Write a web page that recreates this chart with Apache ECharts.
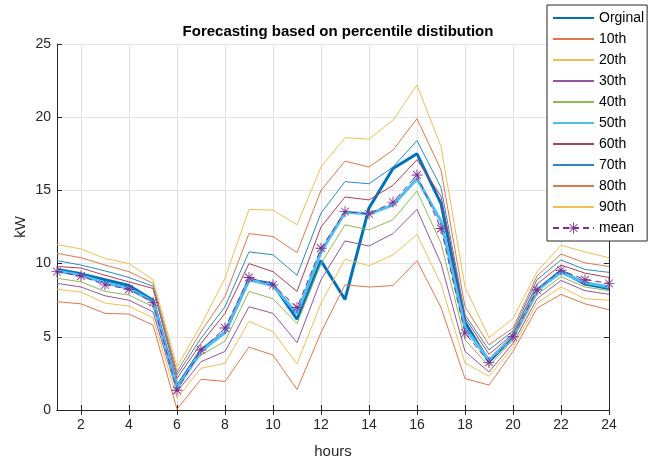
<!DOCTYPE html>
<html>
<head>
<meta charset="utf-8">
<script src="https://cdn.jsdelivr.net/npm/echarts@6/dist/echarts.min.js"></script>
<style>
  html, body { margin: 0; padding: 0; background: #fff; }
  #chart { width: 649px; height: 462px; }
</style>
</head>
<body>
<div id="chart"></div>
<script>
const hours = ['1', '2', '3', '4', '5', '6', '7', '8', '9', '10', '11', '12',
  '13', '14', '15', '16', '17', '18', '19', '20', '21', '22', '23', '24']

const original = [9.6, 9.3, 8.9, 8.5, 7.5, 1.6, 4.1, 5.3, 8.9, 8.6, 6.2, 10.2, 7.55, 13.8, 16.5, 17.5, 14.1, 6.0, 3.3, 5.0, 8.2, 9.5, 8.6, 8.3]
const p10 = [7.4, 7.25, 6.6, 6.55, 5.8, 0.05, 2.1, 1.95, 4.3, 3.75, 1.4, 5.3, 8.55, 8.4, 8.5, 10.2, 7.0, 2.15, 1.7, 4.0, 6.95, 7.9, 7.25, 6.85]
const p20 = [8.25, 8.05, 7.3, 7.1, 6.3, 0.8, 2.85, 3.2, 6.05, 5.35, 3.15, 7.3, 10.3, 9.85, 10.6, 12.0, 8.6, 3.2, 2.3, 4.3, 7.3, 8.4, 7.6, 7.5]
const p30 = [8.65, 8.4, 7.8, 7.5, 6.7, 1.25, 3.3, 4.0, 7.05, 6.6, 4.6, 8.9, 11.55, 11.2, 12.05, 13.7, 10.0, 4.0, 2.6, 4.55, 7.6, 8.85, 8.15, 7.9]
const p40 = [9.0, 8.75, 8.1, 7.85, 7.05, 1.7, 3.75, 4.7, 8.1, 7.6, 5.9, 10.0, 12.65, 12.3, 13.0, 14.95, 11.4, 4.8, 3.0, 4.8, 7.9, 9.1, 8.4, 8.15]
const p50 = [9.5, 9.2, 8.7, 8.3, 7.4, 1.5, 4.0, 5.3, 8.9, 8.5, 6.6, 10.8, 13.5, 13.4, 14.0, 15.8, 12.9, 5.6, 3.4, 5.05, 8.2, 9.4, 8.7, 8.4]
const p60 = [9.8, 9.7, 9.2, 8.75, 8.3, 2.15, 4.55, 6.6, 10.0, 9.45, 8.1, 12.5, 14.55, 14.35, 15.35, 17.1, 14.6, 6.3, 3.8, 5.2, 8.6, 9.9, 9.35, 9.05]
const p70 = [10.2, 9.9, 9.5, 9.05, 8.45, 2.4, 4.9, 7.05, 10.8, 10.6, 9.2, 13.45, 15.6, 15.45, 16.6, 18.4, 15.2, 6.5, 4.1, 5.4, 8.9, 10.25, 9.6, 9.4]
const p80 = [10.7, 10.4, 9.9, 9.45, 8.65, 2.6, 5.35, 7.75, 12.05, 11.85, 10.75, 15.0, 17.0, 16.6, 17.75, 19.9, 16.4, 7.05, 4.45, 5.6, 9.15, 10.65, 10.05, 9.8]
const p90 = [11.3, 11.0, 10.35, 10.0, 8.9, 2.95, 5.8, 9.0, 13.7, 13.65, 12.65, 16.6, 18.6, 18.5, 19.8, 22.2, 18.0, 8.4, 4.95, 6.25, 9.45, 11.25, 10.8, 10.4]
const mean = [9.45, 9.15, 8.55, 8.25, 7.35, 1.35, 4.1, 5.6, 9.05, 8.55, 7.0, 11.05, 13.55, 13.4, 14.2, 16.05, 12.4, 5.25, 3.25, 5.0, 8.2, 9.55, 8.9, 8.65]

const yTicks = [0, 5, 10, 15, 20, 25]
const legendNames = ['Orginal', '10th', '20th', '30th', '40th', '50th', '60th', '70th', '80th', '90th', 'mean']

// asterisk marker (MATLAB '*')
const asterisk = 'path://M0 9.2L20 9.2L20 10.8L0 10.8Z M9.2 0L10.8 0L10.8 20L9.2 20Z ' +
  'M2.4 3.5L3.5 2.4L17.6 16.5L16.5 17.6Z M16.5 2.4L17.6 3.5L3.5 17.6L2.4 16.5Z'

const font = 'Liberation Sans, Arial, sans-serif'
const axisColor = '#262626'
const evenHour = (index) => index % 2 === 1

const thin = (name, data, color) => ({
  name,
  type: 'line',
  data,
  symbol: 'none',
  lineStyle: { width: 1, color },
  itemStyle: { color },
  emphasis: { disabled: true }
})

const chart = echarts.init(document.getElementById('chart'))

const option = {
  animation: false,
  textStyle: { fontFamily: font },
  title: {
    text: 'Forecasting based on percentile distibution',
    left: 333,
    textAlign: 'center',
    top: 19,
    textStyle: { fontSize: 15, fontWeight: 'bold', color: '#000', fontFamily: font }
  },
  legend: {
    orient: 'vertical',
    left: 547,
    top: 5,
    padding: [6, 3, 6, 5],
    itemWidth: 41,
    itemHeight: 14,
    itemGap: 7,
    backgroundColor: '#fff',
    borderColor: axisColor,
    borderWidth: 1,
    textStyle: { fontSize: 14, color: '#000', fontFamily: font },
    // only the mean entry shows its marker
    data: legendNames.map(name => name === 'mean'
      ? { name }
      : { name, itemStyle: { opacity: 0 } })
  },
  grid: {
    left: 57,
    top: 44,
    width: 552,
    height: 366,
    outerBoundsMode: 'none'
  },
  xAxis: [
    {
      type: 'category',
      data: hours,
      boundaryGap: false,
      name: 'hours',
      nameLocation: 'middle',
      nameGap: 34,
      nameMoveOverlap: false,
      nameTextStyle: { fontSize: 15, color: axisColor },
      axisLine: { lineStyle: { color: axisColor } },
      axisTick: { inside: true, length: 5, interval: evenHour, lineStyle: { color: axisColor } },
      axisLabel: { interval: evenHour, fontSize: 14, color: axisColor, margin: 8 },
      splitLine: { show: true, interval: evenHour, lineStyle: { color: '#e3e3e3' } }
    },
    {
      type: 'category',
      data: hours,
      boundaryGap: false,
      position: 'top',
      axisLine: { lineStyle: { color: axisColor } },
      axisTick: { inside: true, length: 5, interval: evenHour, lineStyle: { color: axisColor } },
      axisLabel: { show: false },
      splitLine: { show: false }
    }
  ],
  yAxis: [
    {
      type: 'value',
      min: yTicks[0],
      max: yTicks[yTicks.length - 1],
      interval: 5,
      name: 'kW',
      nameLocation: 'middle',
      nameGap: 29,
      nameMoveOverlap: false,
      nameTextStyle: { fontSize: 15, color: axisColor },
      axisLine: { show: true, lineStyle: { color: axisColor } },
      axisTick: { show: true, inside: true, length: 5, lineStyle: { color: axisColor } },
      axisLabel: { fontSize: 14, color: axisColor, margin: 6 },
      splitLine: { show: true, lineStyle: { color: '#e3e3e3' } }
    },
    {
      type: 'value',
      min: yTicks[0],
      max: yTicks[yTicks.length - 1],
      interval: 5,
      position: 'right',
      axisLine: { show: true, lineStyle: { color: axisColor } },
      axisTick: { show: true, inside: true, length: 5, lineStyle: { color: axisColor } },
      axisLabel: { show: false },
      splitLine: { show: false }
    }
  ],
  series: [
    {
      name: 'Orginal',
      type: 'line',
      data: original,
      symbol: 'none',
      lineStyle: { width: 3, color: '#0072BD' },
      itemStyle: { color: '#0072BD' },
      emphasis: { disabled: true }
    },
    thin('10th', p10, '#E0774A'),
    thin('20th', p20, '#EDC150'),
    thin('30th', p30, '#9454A2'),
    thin('40th', p40, '#8DBA55'),
    {
      name: '50th',
      type: 'line',
      data: p50,
      symbol: 'none',
      lineStyle: { width: 3, color: '#4DBEEE' },
      itemStyle: { color: '#4DBEEE' },
      emphasis: { disabled: true }
    },
    thin('60th', p60, '#B0404F'),
    thin('70th', p70, '#2A88C8'),
    thin('80th', p80, '#E0774A'),
    thin('90th', p90, '#EDC150'),
    {
      name: 'mean',
      type: 'line',
      data: mean,
      symbol: asterisk,
      symbolSize: 11,
      showSymbol: true,
      lineStyle: { width: 1, color: '#7E2F8E', type: [6, 4] },
      itemStyle: { color: '#7E2F8E' },
      emphasis: { disabled: true }
    }
  ]
}

chart.setOption(option)
</script>
</body>
</html>
